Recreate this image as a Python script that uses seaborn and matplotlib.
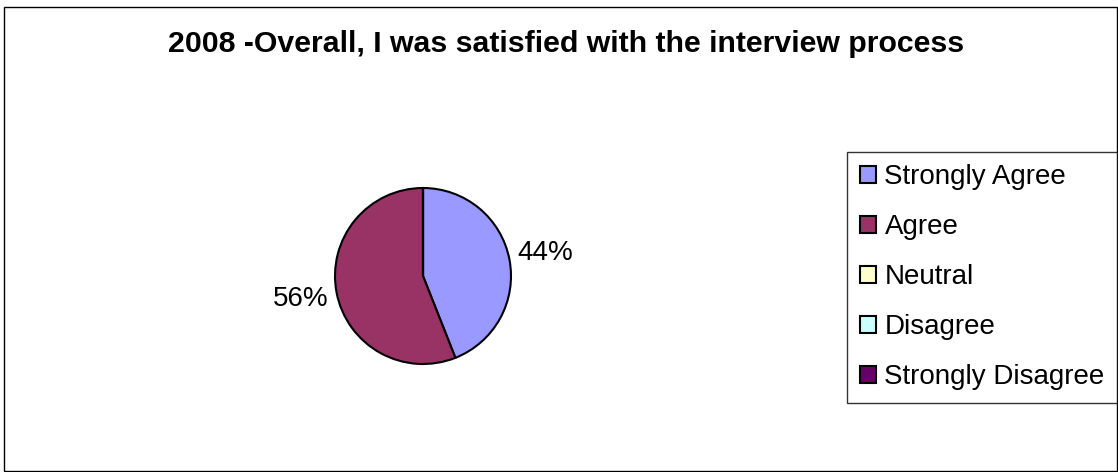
import matplotlib
matplotlib.use("Agg")
import matplotlib.pyplot as plt
import matplotlib.patches as mpatches
import seaborn as sns

# ---- data ----
categories = ["Strongly Agree", "Agree", "Neutral", "Disagree", "Strongly Disagree"]
values = [44, 56, 0, 0, 0]
colors = ["#9999FF", "#993366", "#FFFFCC", "#CCFFFF", "#660066"]
title = "2008 -Overall, I was satisfied with the interview process"

sns.set_theme(style="white")
plt.rcParams['font.family'] = ['Liberation Sans', 'DejaVu Sans']
plt.rcParams['text.color'] = 'black'

W, H = 1118, 472
fig = plt.figure(figsize=(W / 100, H / 100), dpi=100)
fig.patch.set_facecolor("white")

# outer chart border
fig.patches.append(mpatches.Rectangle((4 / W, 1 - 471 / H), (1117 - 4) / W, (471 - 7) / H,
                                      transform=fig.transFigure, fill=False,
                                      edgecolor="black", linewidth=1.0))

# pie axes: centre (423, 276) px, radius 88 px
cx, cy, r = 423, 276, 88
side = 2.5 * r
ax = fig.add_axes([(cx - side / 2) / W, 1 - (cy + side / 2) / H, side / W, side / H])

palette = sns.color_palette(colors)

def fmt(p):
    return f"{p:.0f}%" if p > 0.5 else ""

wedges, texts, autotexts = ax.pie(values, colors=palette, startangle=90, counterclock=False,
                                  autopct=fmt, pctdistance=1.42,
                                  wedgeprops=dict(edgecolor="black", linewidth=1.5),
                                  textprops=dict(fontsize=20, color="black"))

fig.text(566 / W, 1 - 52 / H, title, ha="center", va="baseline",
         fontsize=21.8, fontweight="bold", color="black")

leg = fig.legend(wedges, categories, loc="upper left",
                 bbox_to_anchor=(847 / W, 1 - 152 / H),
                 bbox_transform=fig.transFigure,
                 fontsize=20, frameon=True, fancybox=False, shadow=False,
                 borderpad=0.45, labelspacing=0.86, handlelength=0.58, handleheight=0.58,
                 handletextpad=0.32, borderaxespad=0, labelcolor="black")
leg.get_frame().set_edgecolor("black")
leg.get_frame().set_linewidth(1.0)
for h in leg.legend_handles:
    h.set_edgecolor("black")
    h.set_linewidth(1.5)

fig.savefig("out.png", dpi=100, facecolor="white")
